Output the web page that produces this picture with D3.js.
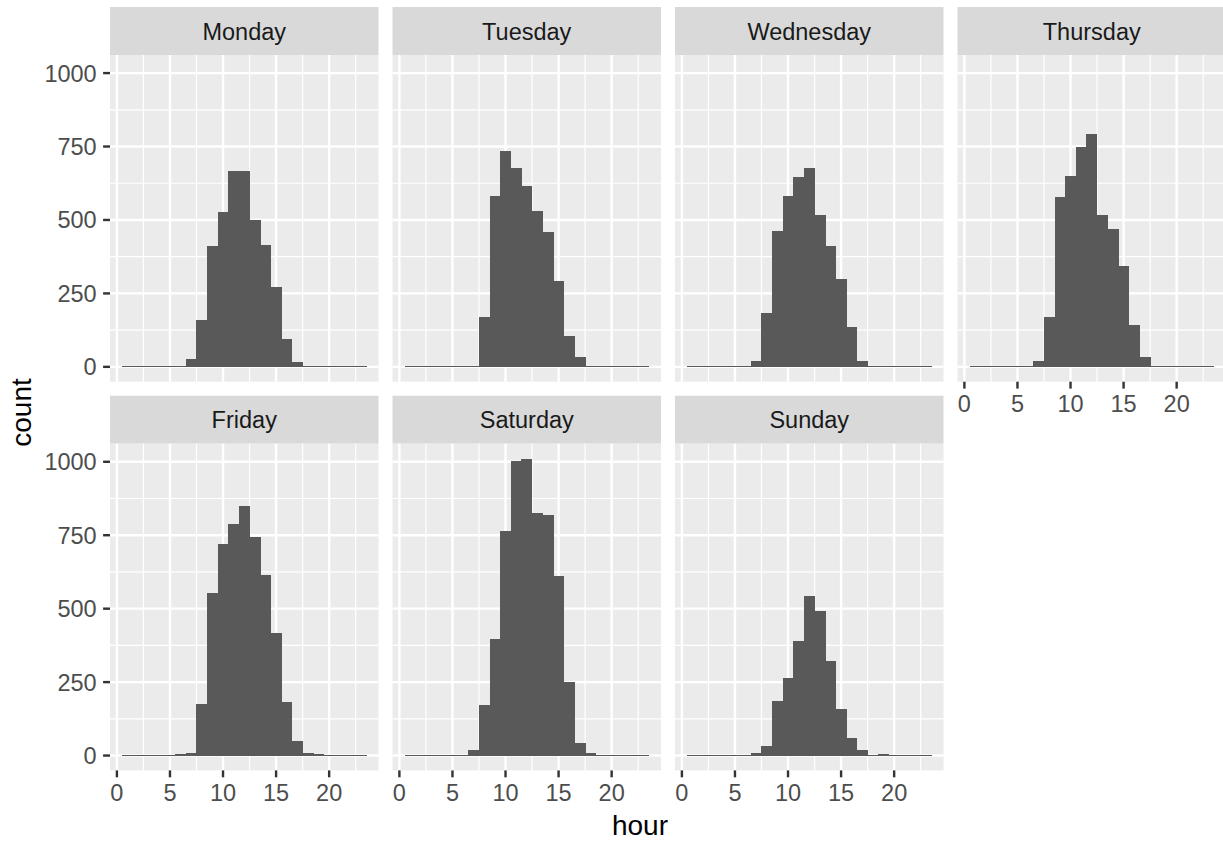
<!DOCTYPE html>
<html>
<head>
<meta charset="utf-8">
<script src="https://cdn.jsdelivr.net/npm/d3@7"></script>
<style>
  html, body { margin: 0; padding: 0; background: #ffffff; }
  svg { display: block; }
  text { font-family: "Liberation Sans", Arial, "DejaVu Sans", sans-serif; }
</style>
</head>
<body>
<svg id="chart" width="1223" height="846"></svg>
<script>
// ---- data ----
const days = ["Monday", "Tuesday", "Wednesday", "Thursday", "Friday", "Saturday", "Sunday"];
const hours = d3.range(1, 24); // bin centres 1..23, binwidth 1
const monday    = [0,0,0,0,0,1,27,160,412,528,665,668,501,416,273,95,17,4,1,0,0,0,0];
const tuesday   = [0,0,0,0,0,0,4,170,581,736,676,617,532,460,293,106,34,4,0,0,0,0,0];
const wednesday = [0,0,0,0,0,0,20,184,464,581,645,678,516,412,300,136,20,1,4,0,0,0,0];
const thursday  = [0,0,0,0,0,0,20,170,577,651,747,794,518,470,344,143,35,1,0,4,0,0,0];
const friday    = [0,0,0,0,0,4,8,175,553,720,789,850,744,615,417,182,49,8,4,0,0,0,0];
const saturday  = [0,0,0,0,0,0,20,172,397,765,1003,1011,826,819,611,250,42,8,0,0,0,0,0];
const sunday    = [0,0,0,0,0,0,7,32,185,264,390,543,492,322,158,59,18,0,4,0,0,0,0];
const xTicks = [0, 5, 10, 15, 20];
const xMinor = [2.5, 7.5, 12.5, 17.5, 22.5];
const yTicks = [0, 250, 500, 750, 1000];
const yMinor = [125, 375, 625, 875];
const series = [monday, tuesday, wednesday, thursday, friday, saturday, sunday];

// ---- layout ----
const svg = d3.select("#chart");
const panelLeft0 = 110, panelW = 268.5, gapX = 14, ncol = 4;
const stripH = 48;
const rowTop = [7, 395.7];            // strip top per row
const panelH = 326.7;

const xmin = hours[0] - 0.5, xmax = hours[hours.length - 1] + 0.5;
const xpad = (xmax - xmin) * 0.05;
const ymax = d3.max(series, s => d3.max(s));
const ypad = ymax * 0.05;

const C = {
  panel: "#EBEBEB", strip: "#D9D9D9", grid: "#FFFFFF", bar: "#595959",
  tick: "#333333", tickText: "#4D4D4D", stripText: "#1A1A1A", title: "#000000"
};
const tickFont = 23.5, stripFont = 23.5, titleFont = 28;

days.forEach((day, i) => {
  const col = i % ncol, row = Math.floor(i / ncol);
  const px = panelLeft0 + col * (panelW + gapX);
  const st = rowTop[row];
  const py = st + stripH;
  const x = d3.scaleLinear().domain([xmin - xpad, xmax + xpad]).range([px, px + panelW]);
  const y = d3.scaleLinear().domain([-ypad, ymax + ypad]).range([py + panelH, py]);
  const g = svg.append("g");

  // strip
  g.append("rect").attr("x", px).attr("y", st).attr("width", panelW).attr("height", stripH).attr("fill", C.strip);
  g.append("text").attr("x", px + panelW / 2).attr("y", st + stripH / 2 + 8.5)
    .attr("text-anchor", "middle").attr("font-size", stripFont).attr("fill", C.stripText).text(day);

  // panel background
  g.append("rect").attr("x", px).attr("y", py).attr("width", panelW).attr("height", panelH).attr("fill", C.panel);

  // grid: minor then major
  g.selectAll(null).data(xMinor).enter().append("line")
    .attr("x1", d => x(d)).attr("x2", d => x(d)).attr("y1", py).attr("y2", py + panelH)
    .attr("stroke", C.grid).attr("stroke-width", 1.2);
  g.selectAll(null).data(yMinor).enter().append("line")
    .attr("y1", d => y(d)).attr("y2", d => y(d)).attr("x1", px).attr("x2", px + panelW)
    .attr("stroke", C.grid).attr("stroke-width", 1.2);
  g.selectAll(null).data(xTicks).enter().append("line")
    .attr("x1", d => x(d)).attr("x2", d => x(d)).attr("y1", py).attr("y2", py + panelH)
    .attr("stroke", C.grid).attr("stroke-width", 2.4);
  g.selectAll(null).data(yTicks).enter().append("line")
    .attr("y1", d => y(d)).attr("y2", d => y(d)).attr("x1", px).attr("x2", px + panelW)
    .attr("stroke", C.grid).attr("stroke-width", 2.4);

  // bars
  const vals = series[i];
  g.append("g").attr("shape-rendering", "crispEdges")
    .selectAll("rect").data(hours).enter().append("rect")
    .attr("x", (h) => x(h - 0.5))
    .attr("width", (h) => x(h + 0.5) - x(h - 0.5) + 0.4)
    .attr("y", (h, k) => Math.min(y(vals[k]), y(0) - 1) )
    .attr("height", (h, k) => Math.max(y(0) - y(vals[k]), 1))
    .attr("fill", C.bar);

  // y axis on first column
  if (col === 0) {
    g.selectAll(null).data(yTicks).enter().append("line")
      .attr("x1", px - 6.9).attr("x2", px).attr("y1", d => y(d)).attr("y2", d => y(d))
      .attr("stroke", C.tick).attr("stroke-width", 2.4);
    g.selectAll(null).data(yTicks).enter().append("text")
      .attr("x", px - 13.3).attr("y", d => y(d) + 8.5)
      .attr("text-anchor", "end").attr("font-size", tickFont).attr("fill", C.tickText)
      .text(d => d);
  }
  // x axis on bottom-most panel in each column
  const below = i + ncol;
  if (below >= days.length) {
    const by = py + panelH;
    g.selectAll(null).data(xTicks).enter().append("line")
      .attr("x1", d => x(d)).attr("x2", d => x(d)).attr("y1", by).attr("y2", by + 6.9)
      .attr("stroke", C.tick).attr("stroke-width", 2.4);
    g.selectAll(null).data(xTicks).enter().append("text")
      .attr("x", d => x(d)).attr("y", by + 30.5)
      .attr("text-anchor", "middle").attr("font-size", tickFont).attr("fill", C.tickText)
      .text(d => d);
  }
});

// axis titles
svg.append("text").attr("x", 640).attr("y", 835).attr("text-anchor", "middle")
  .attr("font-size", titleFont).attr("fill", C.title).text("hour");
svg.append("text").attr("transform", "translate(31,412.5) rotate(-90)").attr("text-anchor", "middle")
  .attr("font-size", titleFont).attr("fill", C.title).text("count");
</script>
</body>
</html>
